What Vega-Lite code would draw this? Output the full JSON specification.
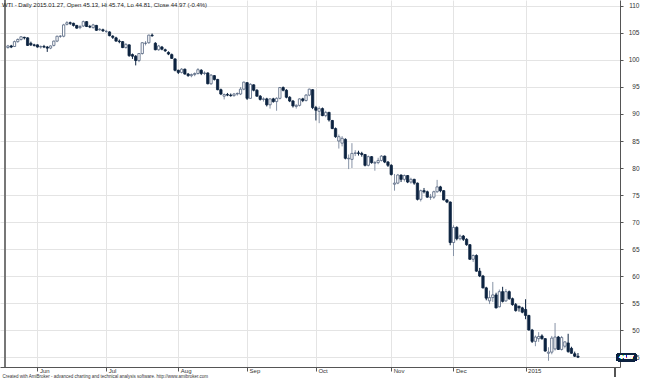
{
"$schema": "https://vega.github.io/schema/vega-lite/v6.json",
"width": 620, "height": 367, "padding": {"left": 0, "top": 0, "right": 25, "bottom": 12}, "autosize": {"type": "none"},
"background": "white",
"config": {"view": {"stroke": null}, "font": "Liberation Sans"},
"title": {"text": "WTI - Daily 2015.01.27, Open 45.13, Hi 45.74, Lo 44.81, Close 44.97 (-0.4%)", "anchor": "start", "orient": "top", "offset": -9, "fontSize": 6, "fontWeight": "normal", "color": "#222222", "dx": 2, "frame": "group"},
"data": {"values": [
{"i":0,"o":102.3,"h":102.8,"l":102.1,"c":102.6},
{"i":1,"o":102.6,"h":102.8,"l":102.2,"c":102.4},
{"i":2,"o":102.5,"h":103.6,"l":102.4,"c":103.4},
{"i":3,"o":103.4,"h":104.0,"l":103.2,"c":103.8},
{"i":4,"o":103.8,"h":104.4,"l":103.6,"c":104.3},
{"i":5,"o":104.2,"h":104.3,"l":103.8,"c":104.1},
{"i":6,"o":104.1,"h":104.2,"l":102.6,"c":102.7},
{"i":7,"o":103.1,"h":103.4,"l":102.6,"c":102.8},
{"i":8,"o":102.8,"h":103.0,"l":102.5,"c":102.7},
{"i":9,"o":102.8,"h":102.9,"l":102.3,"c":102.4},
{"i":10,"o":102.4,"h":102.7,"l":102.1,"c":102.5},
{"i":11,"o":102.5,"h":102.8,"l":102.2,"c":102.4},
{"i":12,"o":102.4,"h":102.6,"l":101.5,"c":102.2},
{"i":13,"o":102.2,"h":102.7,"l":102.0,"c":102.6},
{"i":14,"o":102.7,"h":103.6,"l":102.5,"c":103.5},
{"i":15,"o":103.5,"h":104.5,"l":103.3,"c":104.4},
{"i":16,"o":104.4,"h":104.6,"l":104.1,"c":104.4},
{"i":17,"o":104.4,"h":106.7,"l":104.2,"c":106.5},
{"i":18,"o":106.6,"h":107.2,"l":106.4,"c":106.9},
{"i":19,"o":106.9,"h":107.1,"l":106.5,"c":106.8},
{"i":20,"o":106.8,"h":106.9,"l":106.2,"c":106.4},
{"i":21,"o":106.4,"h":106.5,"l":105.8,"c":105.9},
{"i":22,"o":106.0,"h":106.5,"l":105.7,"c":106.2},
{"i":23,"o":106.3,"h":107.3,"l":106.1,"c":107.1},
{"i":24,"o":107.1,"h":107.2,"l":106.1,"c":106.2},
{"i":25,"o":106.2,"h":106.5,"l":105.9,"c":106.1},
{"i":26,"o":106.0,"h":106.7,"l":105.8,"c":106.5},
{"i":27,"o":106.4,"h":106.5,"l":105.4,"c":105.5},
{"i":28,"o":105.6,"h":105.9,"l":105.4,"c":105.7},
{"i":29,"o":105.6,"h":105.8,"l":105.2,"c":105.4},
{"i":30,"o":105.3,"h":105.6,"l":105.0,"c":105.3},
{"i":31,"o":105.2,"h":105.3,"l":104.4,"c":104.5},
{"i":32,"o":104.4,"h":104.6,"l":103.9,"c":104.2},
{"i":33,"o":104.1,"h":104.3,"l":103.4,"c":103.5},
{"i":34,"o":103.5,"h":103.8,"l":103.1,"c":103.4},
{"i":35,"o":103.4,"h":103.5,"l":102.2,"c":102.3},
{"i":36,"o":102.3,"h":103.1,"l":102.1,"c":102.9},
{"i":37,"o":102.8,"h":102.9,"l":100.6,"c":100.8},
{"i":38,"o":101.0,"h":101.2,"l":100.2,"c":100.7},
{"i":39,"o":100.7,"h":100.9,"l":99.0,"c":99.9},
{"i":40,"o":99.9,"h":101.3,"l":99.6,"c":101.2},
{"i":41,"o":101.2,"h":103.3,"l":101.0,"c":103.2},
{"i":42,"o":103.1,"h":103.5,"l":102.7,"c":103.1},
{"i":43,"o":103.2,"h":104.7,"l":103.0,"c":104.6},
{"i":44,"o":104.6,"h":104.9,"l":104.3,"c":104.5},
{"i":45,"o":103.1,"h":103.3,"l":101.8,"c":101.9},
{"i":46,"o":101.9,"h":102.8,"l":101.7,"c":102.6},
{"i":47,"o":102.4,"h":102.6,"l":101.8,"c":102.0},
{"i":48,"o":101.9,"h":102.1,"l":101.5,"c":101.7},
{"i":49,"o":101.4,"h":101.6,"l":100.9,"c":101.1},
{"i":50,"o":101.0,"h":101.2,"l":100.2,"c":100.3},
{"i":51,"o":100.2,"h":100.3,"l":97.9,"c":98.1},
{"i":52,"o":98.1,"h":98.2,"l":97.4,"c":97.7},
{"i":53,"o":97.7,"h":98.5,"l":97.5,"c":98.3},
{"i":54,"o":98.3,"h":98.4,"l":97.3,"c":97.4},
{"i":55,"o":97.4,"h":97.6,"l":96.9,"c":97.1},
{"i":56,"o":97.1,"h":97.5,"l":96.8,"c":97.3},
{"i":57,"o":97.3,"h":97.7,"l":97.0,"c":97.5},
{"i":58,"o":97.5,"h":98.5,"l":97.3,"c":98.2},
{"i":59,"o":98.1,"h":98.3,"l":97.2,"c":97.5},
{"i":60,"o":97.5,"h":97.9,"l":97.2,"c":97.6},
{"i":61,"o":97.6,"h":97.7,"l":95.5,"c":95.6},
{"i":62,"o":95.6,"h":97.4,"l":95.4,"c":97.2},
{"i":63,"o":97.1,"h":97.2,"l":96.2,"c":96.4},
{"i":64,"o":96.4,"h":96.5,"l":94.4,"c":94.5},
{"i":65,"o":94.5,"h":94.7,"l":93.5,"c":93.7},
{"i":66,"o":93.3,"h":93.8,"l":92.7,"c":93.6},
{"i":67,"o":93.6,"h":93.9,"l":93.3,"c":93.5},
{"i":68,"o":93.5,"h":93.8,"l":93.2,"c":93.4},
{"i":69,"o":93.4,"h":93.9,"l":93.2,"c":93.7},
{"i":70,"o":93.7,"h":94.0,"l":93.4,"c":93.8},
{"i":71,"o":93.7,"h":95.0,"l":93.5,"c":94.6},
{"i":72,"o":94.6,"h":96.0,"l":94.4,"c":95.9},
{"i":73,"o":95.8,"h":95.9,"l":92.6,"c":92.9},
{"i":74,"o":92.9,"h":95.7,"l":92.8,"c":95.5},
{"i":75,"o":95.4,"h":95.5,"l":94.2,"c":94.4},
{"i":76,"o":94.4,"h":94.6,"l":93.2,"c":93.3},
{"i":77,"o":93.3,"h":93.5,"l":92.5,"c":92.7},
{"i":78,"o":92.7,"h":93.1,"l":92.3,"c":92.8},
{"i":79,"o":92.8,"h":93.0,"l":91.4,"c":91.7},
{"i":80,"o":91.7,"h":92.9,"l":91.0,"c":92.8},
{"i":81,"o":92.8,"h":93.0,"l":92.1,"c":92.3},
{"i":82,"o":92.3,"h":93.1,"l":90.6,"c":92.9},
{"i":83,"o":92.9,"h":95.0,"l":92.7,"c":94.9},
{"i":84,"o":94.9,"h":95.1,"l":94.2,"c":94.4},
{"i":85,"o":94.4,"h":94.6,"l":92.9,"c":93.1},
{"i":86,"o":93.1,"h":93.3,"l":92.2,"c":92.4},
{"i":87,"o":92.4,"h":92.6,"l":91.2,"c":91.5},
{"i":88,"o":91.4,"h":91.8,"l":91.0,"c":91.6},
{"i":89,"o":91.6,"h":92.9,"l":91.4,"c":92.8},
{"i":90,"o":92.8,"h":93.0,"l":92.2,"c":92.5},
{"i":91,"o":92.5,"h":93.7,"l":92.3,"c":93.5},
{"i":92,"o":93.5,"h":94.7,"l":93.3,"c":94.6},
{"i":93,"o":94.5,"h":94.6,"l":90.9,"c":91.2},
{"i":94,"o":91.2,"h":91.5,"l":88.8,"c":90.7},
{"i":95,"o":90.5,"h":91.4,"l":88.3,"c":91.0},
{"i":96,"o":91.0,"h":91.2,"l":89.6,"c":89.7},
{"i":97,"o":89.7,"h":90.6,"l":89.4,"c":90.3},
{"i":98,"o":90.3,"h":90.4,"l":88.6,"c":88.9},
{"i":99,"o":88.8,"h":88.9,"l":87.2,"c":87.3},
{"i":100,"o":87.3,"h":87.5,"l":85.6,"c":85.8},
{"i":101,"o":85.0,"h":86.2,"l":83.6,"c":85.8},
{"i":102,"o":84.6,"h":85.9,"l":84.0,"c":85.5},
{"i":103,"o":85.3,"h":85.5,"l":81.6,"c":81.8},
{"i":104,"o":81.7,"h":82.5,"l":79.8,"c":81.8},
{"i":105,"o":81.6,"h":84.6,"l":80.0,"c":82.7},
{"i":106,"o":82.7,"h":83.3,"l":82.2,"c":82.8},
{"i":107,"o":82.8,"h":83.2,"l":82.3,"c":82.7},
{"i":108,"o":82.7,"h":83.0,"l":82.1,"c":82.5},
{"i":109,"o":82.5,"h":82.6,"l":80.3,"c":80.5},
{"i":110,"o":80.5,"h":82.3,"l":80.3,"c":82.1},
{"i":111,"o":82.1,"h":82.2,"l":80.8,"c":81.0},
{"i":112,"o":80.9,"h":81.3,"l":79.5,"c":81.0},
{"i":113,"o":81.0,"h":81.9,"l":80.7,"c":81.4},
{"i":114,"o":81.4,"h":82.4,"l":81.2,"c":82.2},
{"i":115,"o":82.2,"h":82.3,"l":80.9,"c":81.1},
{"i":116,"o":81.1,"h":81.3,"l":80.2,"c":80.5},
{"i":117,"o":80.5,"h":80.7,"l":78.6,"c":78.8},
{"i":118,"o":77.0,"h":78.9,"l":75.8,"c":77.2},
{"i":119,"o":77.2,"h":78.9,"l":77.0,"c":78.7},
{"i":120,"o":78.7,"h":78.8,"l":77.4,"c":77.9},
{"i":121,"o":77.9,"h":78.8,"l":77.5,"c":78.6},
{"i":122,"o":78.6,"h":78.7,"l":77.2,"c":77.4},
{"i":123,"o":77.4,"h":78.2,"l":77.1,"c":77.9},
{"i":124,"o":77.9,"h":78.0,"l":76.9,"c":77.2},
{"i":125,"o":77.2,"h":77.3,"l":74.0,"c":74.2},
{"i":126,"o":74.2,"h":76.0,"l":73.8,"c":75.8},
{"i":127,"o":75.8,"h":76.3,"l":75.3,"c":75.6},
{"i":128,"o":75.6,"h":75.8,"l":74.5,"c":74.6},
{"i":129,"o":74.6,"h":75.2,"l":74.1,"c":74.6},
{"i":130,"o":74.6,"h":75.8,"l":74.3,"c":75.6},
{"i":131,"o":75.6,"h":77.8,"l":75.4,"c":76.5},
{"i":132,"o":76.5,"h":76.7,"l":75.5,"c":75.8},
{"i":133,"o":75.8,"h":75.9,"l":74.0,"c":74.1},
{"i":134,"o":74.1,"h":74.2,"l":73.5,"c":73.7},
{"i":135,"o":73.7,"h":73.8,"l":65.7,"c":66.2},
{"i":136,"o":66.2,"h":69.4,"l":63.7,"c":69.0},
{"i":137,"o":69.0,"h":69.2,"l":66.6,"c":66.9},
{"i":138,"o":66.9,"h":67.7,"l":66.6,"c":67.4},
{"i":139,"o":67.4,"h":67.6,"l":66.5,"c":66.8},
{"i":140,"o":66.8,"h":67.0,"l":65.6,"c":65.8},
{"i":141,"o":65.8,"h":65.9,"l":63.0,"c":63.1},
{"i":142,"o":63.1,"h":64.0,"l":62.6,"c":63.8},
{"i":143,"o":63.8,"h":64.0,"l":60.8,"c":60.9},
{"i":144,"o":60.9,"h":61.5,"l":59.8,"c":60.0},
{"i":145,"o":60.0,"h":60.2,"l":57.7,"c":57.8},
{"i":146,"o":57.8,"h":58.0,"l":55.5,"c":55.9},
{"i":147,"o":55.4,"h":57.3,"l":54.8,"c":56.0},
{"i":148,"o":56.0,"h":58.9,"l":55.2,"c":56.5},
{"i":149,"o":56.5,"h":56.9,"l":54.0,"c":54.1},
{"i":150,"o":54.3,"h":57.5,"l":54.2,"c":57.1},
{"i":151,"o":57.1,"h":58.0,"l":55.1,"c":55.3},
{"i":152,"o":55.4,"h":57.6,"l":55.2,"c":57.1},
{"i":153,"o":57.1,"h":57.3,"l":55.6,"c":55.8},
{"i":154,"o":55.8,"h":56.0,"l":54.5,"c":54.7},
{"i":155,"o":54.7,"h":55.0,"l":53.4,"c":53.6},
{"i":156,"o":54.4,"h":54.5,"l":53.4,"c":54.1},
{"i":157,"o":54.1,"h":54.3,"l":53.1,"c":53.3},
{"i":158,"o":53.8,"h":55.7,"l":52.0,"c":52.7},
{"i":159,"o":52.7,"h":52.8,"l":49.9,"c":50.0},
{"i":160,"o":50.0,"h":50.2,"l":47.6,"c":47.9},
{"i":161,"o":47.9,"h":49.0,"l":47.0,"c":48.7},
{"i":162,"o":48.4,"h":49.6,"l":47.8,"c":48.8},
{"i":163,"o":48.9,"h":49.2,"l":48.2,"c":48.4},
{"i":164,"o":48.4,"h":48.5,"l":46.0,"c":46.1},
{"i":165,"o":45.7,"h":46.8,"l":44.3,"c":45.9},
{"i":166,"o":45.9,"h":48.9,"l":45.5,"c":48.5},
{"i":167,"o":46.5,"h":51.3,"l":46.2,"c":48.7},
{"i":168,"o":48.7,"h":48.9,"l":46.3,"c":46.4},
{"i":169,"o":46.4,"h":48.9,"l":46.2,"c":48.6},
{"i":170,"o":47.0,"h":47.9,"l":46.6,"c":47.8},
{"i":171,"o":47.6,"h":49.3,"l":45.8,"c":46.0},
{"i":172,"o":46.6,"h":46.9,"l":45.6,"c":45.7},
{"i":173,"o":45.6,"h":46.0,"l":45.0,"c":45.15},
{"i":174,"o":45.13,"h":45.74,"l":44.81,"c":44.97}
]},
"layer": [
{"mark": {"type": "rule", "strokeWidth": 1},
 "encoding": {
  "x": {"field": "i", "type": "quantitative", "scale": {"domain": [-0.9, 185.3], "nice": false, "zero": false},
   "axis": {"orient": "bottom", "values": [9, 30, 52, 73, 94, 117, 136, 158], "tickCount": 20,
    "labelExpr": "datum.value == 9 ? 'Jun' : datum.value == 30 ? 'Jul' : datum.value == 52 ? 'Aug' : datum.value == 73 ? 'Sep' : datum.value == 94 ? 'Oct' : datum.value == 117 ? 'Nov' : datum.value == 136 ? 'Dec' : '2015'",
    "grid": true, "gridColor": "#e4e4e4", "gridWidth": 1, "domainColor": "#555555", "tickColor": "#555555", "tickSize": 4,
    "labelAlign": "left", "labelBaseline": "top", "labelPadding": -4, "labelOffset": 2, "labelFontSize": 6, "labelColor": "#333333",
    "labelFlush": false, "labelOverlap": false,
    "title": "Created with AmiBroker - advanced charting and technical analysis software. http://www.amibroker.com",
    "titleFontSize": 4.5, "titleFontWeight": "normal", "titleColor": "#333333", "titleAnchor": "start", "titleAlign": "left", "titleX": 2, "titleY": 9, "titleBaseline": "middle"}},
  "y": {"field": "l", "type": "quantitative", "scale": {"domain": [43.15, 111.11], "nice": false, "zero": false},
   "axis": {"orient": "right", "values": [45, 50, 55, 60, 65, 70, 75, 80, 85, 90, 95, 100, 105, 110], "tickCount": 30,
    "grid": true, "gridColor": "#e4e4e4", "domainColor": "#555555", "tickColor": "#555555", "tickSize": 3,
    "labelAlign": "right", "labelPadding": 16, "labelFontSize": 6.5, "labelColor": "#333333", "labelBaseline": "middle", "labelOverlap": false, "labelFlush": false, "title": null}},
  "y2": {"field": "h"},
  "color": {"condition": {"test": "datum.c >= datum.o", "value": "#8793a6"}, "value": "#0c2340"}
 }},
{"mark": {"type": "bar", "size": 2.3, "strokeWidth": 0.8},
 "encoding": {
  "x": {"field": "i", "type": "quantitative"},
  "y": {"field": "o", "type": "quantitative"},
  "y2": {"field": "c"},
  "fill": {"condition": {"test": "datum.c >= datum.o", "value": "#ffffff"}, "value": "#0c2340"},
  "stroke": {"condition": {"test": "datum.c >= datum.o", "value": "#50627e"}, "value": "#0c2340"}
 }},
{"mark": {"type": "rule", "strokeWidth": 2, "color": "#777777"},
 "encoding": {"x": {"datum": -0.9, "type": "quantitative"}, "y": {"datum": 43.15, "type": "quantitative"}, "y2": {"datum": 111.11}}},
{"mark": {"type": "rule", "strokeWidth": 1, "color": "#555555", "clip": false},
 "encoding": {"x": {"datum": 185.3, "type": "quantitative"}, "y": {"datum": 43.15, "type": "quantitative"}, "y2": {"datum": 41.3}}},
{"mark": {"type": "rect", "color": "#0c2340", "cornerRadius": 2, "clip": false},
 "encoding": {"x": {"datum": 185.8, "type": "quantitative"}, "x2": {"datum": 191.8}, "y": {"datum": 45.72, "type": "quantitative"}, "y2": {"datum": 44.22}}},
{"mark": {"type": "text", "color": "#ffffff", "fontSize": 5.5, "align": "center", "baseline": "middle", "clip": false},
 "encoding": {"x": {"datum": 188.8, "type": "quantitative"}, "y": {"datum": 44.97, "type": "quantitative"}, "text": {"value": "44.97"}}}
]
}
